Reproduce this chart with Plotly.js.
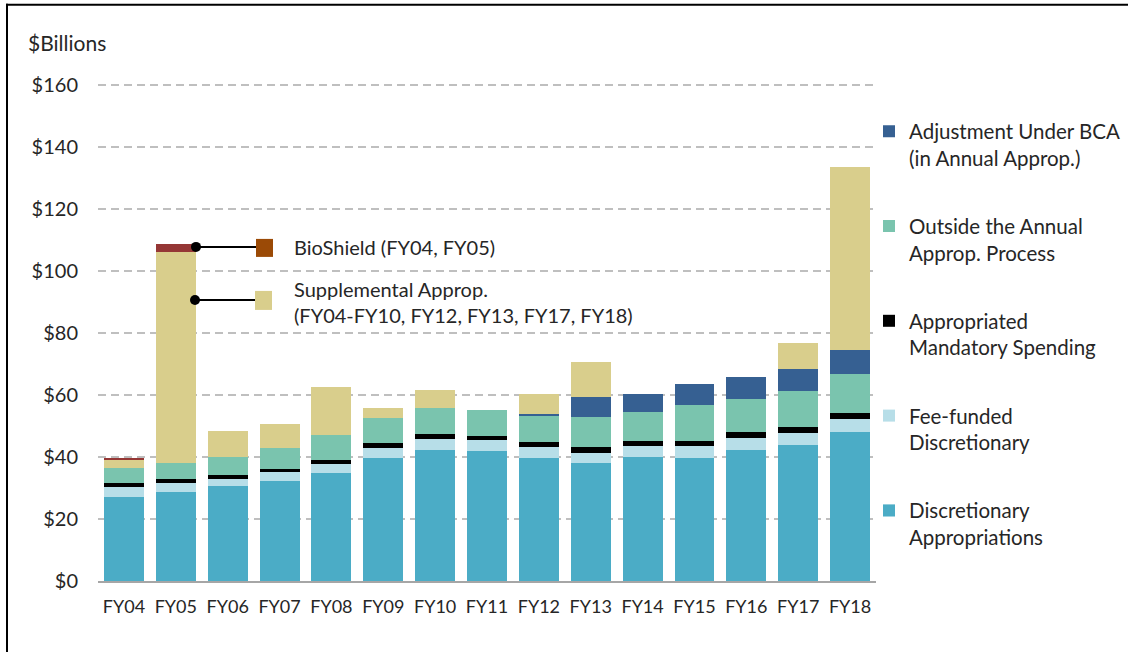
<!DOCTYPE html>
<html>
<head>
<meta charset="utf-8">
<script src="https://cdn.plot.ly/plotly-3.0.1.min.js"></script>
<style>
  html, body { margin: 0; padding: 0; background: #fff; }
  #chart { width: 1128px; height: 652px; }
</style>
</head>
<body>
<div id="chart"></div>
<script>
// ---- Data ($ billions) ----
const years = ["FY04","FY05","FY06","FY07","FY08","FY09","FY10","FY11","FY12","FY13","FY14","FY15","FY16","FY17","FY18"];
const discretionary = [27.0, 28.6, 30.6, 32.4, 34.7, 39.8, 42.3, 41.8, 39.8, 38.1, 40.1, 39.8, 42.2, 43.9, 48.0];
const feeFunded     = [3.4, 2.9, 2.4, 2.8, 2.9, 3.2, 3.6, 3.7, 3.5, 3.3, 3.5, 3.8, 4.0, 3.9, 4.4];
const mandatory     = [1.1, 1.3, 1.3, 0.8, 1.3, 1.4, 1.4, 1.3, 1.5, 1.7, 1.5, 1.5, 1.8, 1.8, 1.8];
const outsideAnnual = [5.1, 5.4, 5.8, 7.0, 8.2, 8.2, 8.5, 8.3, 8.5, 9.8, 9.5, 11.5, 10.7, 11.6, 12.5];
const bcaAdjust     = [0, 0, 0, 0, 0, 0, 0, 0, 0.6, 6.4, 5.8, 6.8, 7.0, 7.1, 7.7];
const supplemental  = [2.4, 67.8, 8.3, 7.5, 15.4, 3.2, 5.8, 0, 6.5, 11.3, 0, 0, 0, 8.6, 59.1];
const bioShield     = [0.8, 2.7, 0, 0, 0, 0, 0, 0, 0, 0, 0, 0, 0, 0, 0];
const yTickVals = [0, 20, 40, 60, 80, 100, 120, 140, 160];
const yTickText = ["$0","$20","$40","$60","$80","$100","$120","$140","$160"];

const FONT = "Lato, 'Open Sans', sans-serif";
const TXT = "#262626";

function bar(name, y, color, show, rank) {
  return {
    type: "bar", x: years, y: y, name: name,
    marker: { color: color, line: { width: 0 } },
    showlegend: show, legendgroup: "g" + rank, legendrank: rank,
    hoverinfo: "skip"
  };
}

const traces = [
  bar("Discretionary<br>Appropriations", discretionary, "#4BACC6", true, 5),
  bar("Fee-funded<br>Discretionary", feeFunded, "#B7DEE8", true, 4),
  bar("Appropriated<br>Mandatory Spending", mandatory, "#000000", true, 3),
  bar("Outside the Annual<br>Approp. Process", outsideAnnual, "#7AC4AE", true, 2),
  bar("Adjustment Under BCA<br>(in Annual Approp.)", bcaAdjust, "#366092", true, 1),
  bar("Supplemental Approp.", supplemental, "#D9CE8C", false, 6),
  bar("BioShield", bioShield, "#953735", false, 7)
];

// pixel -> paper helpers (plot area: x 98..876, y 85..581 for 0..160)
const L = 98, R = 876, T = 85, B = 581;
const YMAX = 160.6;
const TOP = B - (B - T) * YMAX / 160;   // actual plot top in px
const px = v => (v - L) / (R - L);
const py = v => (B - v) / (B - TOP);

const shapes = [
  // frame (left and top)
  { type: "line", xref: "paper", yref: "paper", x0: px(7), x1: px(7), y0: py(4), y1: py(660), line: { color: "#000", width: 2 } },
  { type: "line", xref: "paper", yref: "paper", x0: px(6), x1: px(1140), y0: py(5), y1: py(5), line: { color: "#000", width: 2 } },
  // BioShield callout
  { type: "line", xref: "paper", yref: "paper", x0: px(196), x1: px(258), y0: py(247), y1: py(247), line: { color: "#000", width: 2 } },
  { type: "circle", xref: "paper", yref: "paper", x0: px(191), x1: px(201), y0: py(242), y1: py(252), fillcolor: "#000", line: { width: 0 } },
  { type: "rect", xref: "paper", yref: "paper", x0: px(256), x1: px(273), y0: py(239), y1: py(257), fillcolor: "#9B4A06", line: { width: 0 } },
  // Supplemental callout
  { type: "line", xref: "paper", yref: "paper", x0: px(195), x1: px(256), y0: py(300), y1: py(300), line: { color: "#000", width: 2 } },
  { type: "circle", xref: "paper", yref: "paper", x0: px(190), x1: px(200), y0: py(295), y1: py(305), fillcolor: "#000", line: { width: 0 } },
  { type: "rect", xref: "paper", yref: "paper", x0: px(255), x1: px(272), y0: py(291), y1: py(310), fillcolor: "#D9CE8C", line: { width: 0 } }
];

const annotations = [
  { xref: "paper", yref: "paper", x: px(26), y: py(43), xanchor: "left", yanchor: "middle",
    text: "$Billions", showarrow: false, font: { family: FONT, size: 21, color: TXT } },
  { xref: "paper", yref: "paper", x: px(292), y: py(247), xanchor: "left", yanchor: "middle",
    text: "BioShield (FY04, FY05)", showarrow: false, font: { family: FONT, size: 20, color: TXT } },
  { xref: "paper", yref: "paper", x: px(292), y: py(302), xanchor: "left", yanchor: "middle", align: "left",
    text: "Supplemental Approp.<br>(FY04-FY10, FY12, FY13, FY17, FY18)", showarrow: false,
    font: { family: FONT, size: 20, color: TXT } }
];

const layout = {
  width: 1128, height: 652,
  margin: { l: L, r: 1128 - R, t: TOP, b: 652 - B, pad: 0, autoexpand: false },
  paper_bgcolor: "#fff", plot_bgcolor: "#fff",
  barmode: "stack", bargap: 0.23,
  font: { family: FONT, size: 19, color: TXT },
  xaxis: {
    type: "category", showgrid: false, zeroline: false,
    showline: true, linecolor: "#A6A6A6", linewidth: 2,
    ticks: "", ticklabelstandoff: 8,
    tickfont: { family: FONT, size: 18, color: TXT },
    fixedrange: true
  },
  yaxis: {
    range: [0, YMAX], tickvals: yTickVals, ticktext: yTickText,
    showgrid: true, gridcolor: "#BFBFBF", gridwidth: 2, griddash: "8px,5px",
    zeroline: false, showline: false, ticks: "", ticklabelstandoff: 19,
    tickfont: { family: FONT, size: 20, color: TXT },
    fixedrange: true
  },
  legend: {
    x: px(869), xanchor: "left", y: py(111.5), yanchor: "top",
    traceorder: "grouped", tracegroupgap: 38.5, valign: "top",
    font: { family: FONT, size: 20.5, color: TXT },
    bgcolor: "rgba(0,0,0,0)", itemwidth: 30
  },
  shapes: shapes,
  annotations: annotations,
  showlegend: true
};

Plotly.newPlot("chart", traces, layout, { staticPlot: true, displayModeBar: false });
</script>
</body>
</html>
